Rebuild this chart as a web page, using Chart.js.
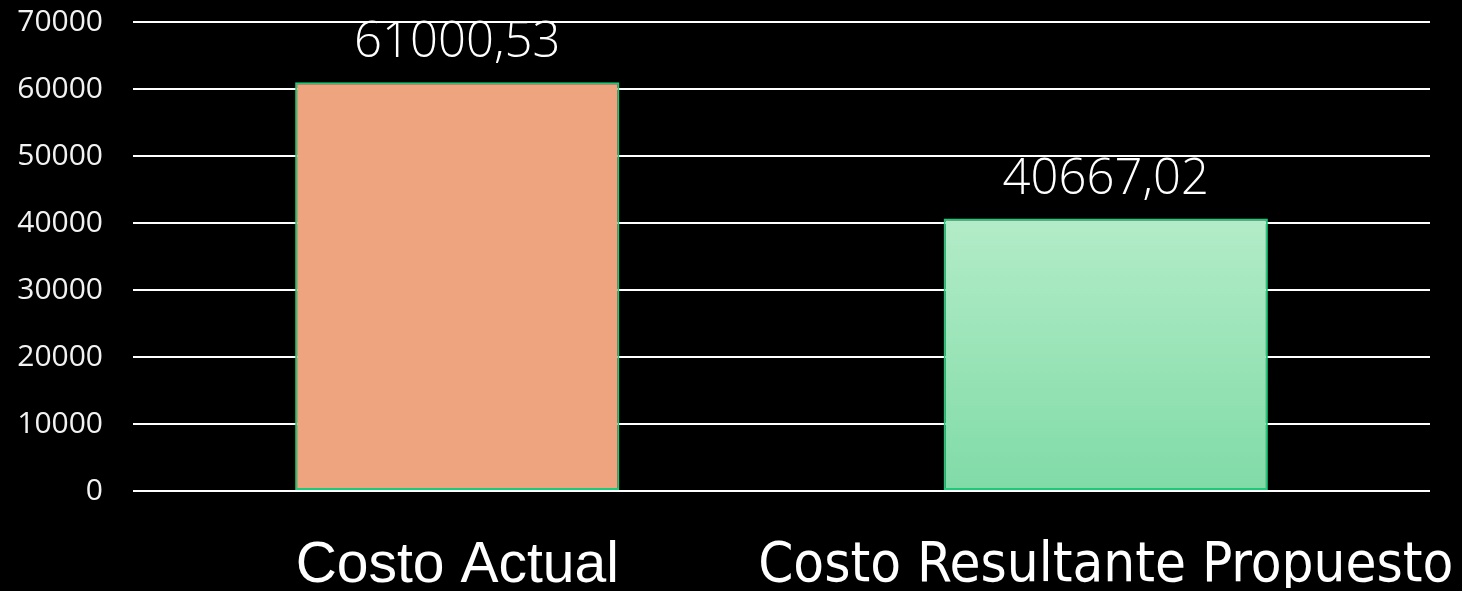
<!DOCTYPE html>
<html>
<head>
<meta charset="utf-8">
<script src="https://cdn.jsdelivr.net/npm/chart.js@4.4.0/dist/chart.umd.min.js"></script>
<style>
  html, body { margin: 0; padding: 0; background: #000; }
  #wrap { width: 1462px; height: 591px; }
</style>
</head>
<body>
<div id="wrap"><canvas id="chart"></canvas></div>
<script>
const categories = ["Costo Actual", "Costo Resultante Propuesto"];
const costos = [61000.53, 40667.02];
const valueLabels = ["61000,53", "40667,02"];
const yTicks = [0, 10000, 20000, 30000, 40000, 50000, 60000, 70000];

const canvas = document.getElementById("chart");

// etiquetas encima de cada barra
const valueLabelPlugin = {
  id: "valueLabels",
  afterDatasetsDraw(chart) {
    const ctx = chart.ctx;
    const meta = chart.getDatasetMeta(0);
    ctx.save();
    ctx.fillStyle = "#ffffff";
    ctx.font = "300 49px 'Open Sans'";
    ctx.textAlign = "center";
    ctx.textBaseline = "alphabetic";
    meta.data.forEach((bar, i) => {
      ctx.fillText(valueLabels[i], bar.x, bar.y - 25);
    });
    ctx.restore();
  }
};

const barFill = (context) => {
  if (context.dataIndex === 0) return "#EEA47F";
  const chart = context.chart;
  if (!chart.chartArea) return "#9BE3B8";
  const yScale = chart.scales.y;
  const top = yScale.getPixelForValue(costos[1]);
  const bottom = yScale.getPixelForValue(0);
  const grad = chart.ctx.createLinearGradient(0, top, 0, bottom);
  grad.addColorStop(0, "#B3ECC8");
  grad.addColorStop(1, "#80DBA7");
  return grad;
};

new Chart(canvas, {
  type: "bar",
  plugins: [valueLabelPlugin],
  data: {
    labels: categories,
    datasets: [{
      data: costos,
      backgroundColor: barFill,
      borderColor: "#1FC97A",
      borderWidth: 2,
      borderSkipped: false,
      categoryPercentage: 1,
      barPercentage: 0.5
    }]
  },
  options: {
    responsive: true,
    maintainAspectRatio: false,
    animation: false,
    layout: { padding: { left: 17, right: 32, top: 22, bottom: 3 } },
    plugins: {
      legend: { display: false },
      tooltip: { enabled: false }
    },
    scales: {
      x: {
        grid: { display: false, drawTicks: false },
        border: { display: false },
        afterFit: (axis) => {
          // las etiquetas largas no deben encoger el área del gráfico
          axis.paddingLeft = 0;
          axis.paddingRight = 0;
          axis.height = 97;
        },
        ticks: {
          color: "#ffffff",
          padding: 47,
          maxRotation: 0,
          autoSkip: false,
          font: (c) => c.index === 1
            ? { family: "'DejaVu Sans Condensed', 'DejaVu Sans'", size: 56, weight: "normal", lineHeight: 1 }
            : { family: "'Liberation Sans', Arial", size: 57, lineHeight: 1 }
        }
      },
      y: {
        min: 0,
        max: 70000,
        afterBuildTicks: (axis) => {
          axis.ticks = yTicks.map(v => ({ value: v }));
        },
        afterFit: (axis) => {
          axis.paddingTop = 0;
          axis.paddingBottom = 0;
          axis.width = 116;
        },
        grid: { color: "#ffffff", lineWidth: 2, drawTicks: false },
        border: { display: false },
        ticks: {
          color: "#f2f2f2",
          padding: 30,
          font: { family: "'Open Sans'", size: 30 },
          callback: (v) => String(v)
        }
      }
    }
  }
});
</script>
</body>
</html>
